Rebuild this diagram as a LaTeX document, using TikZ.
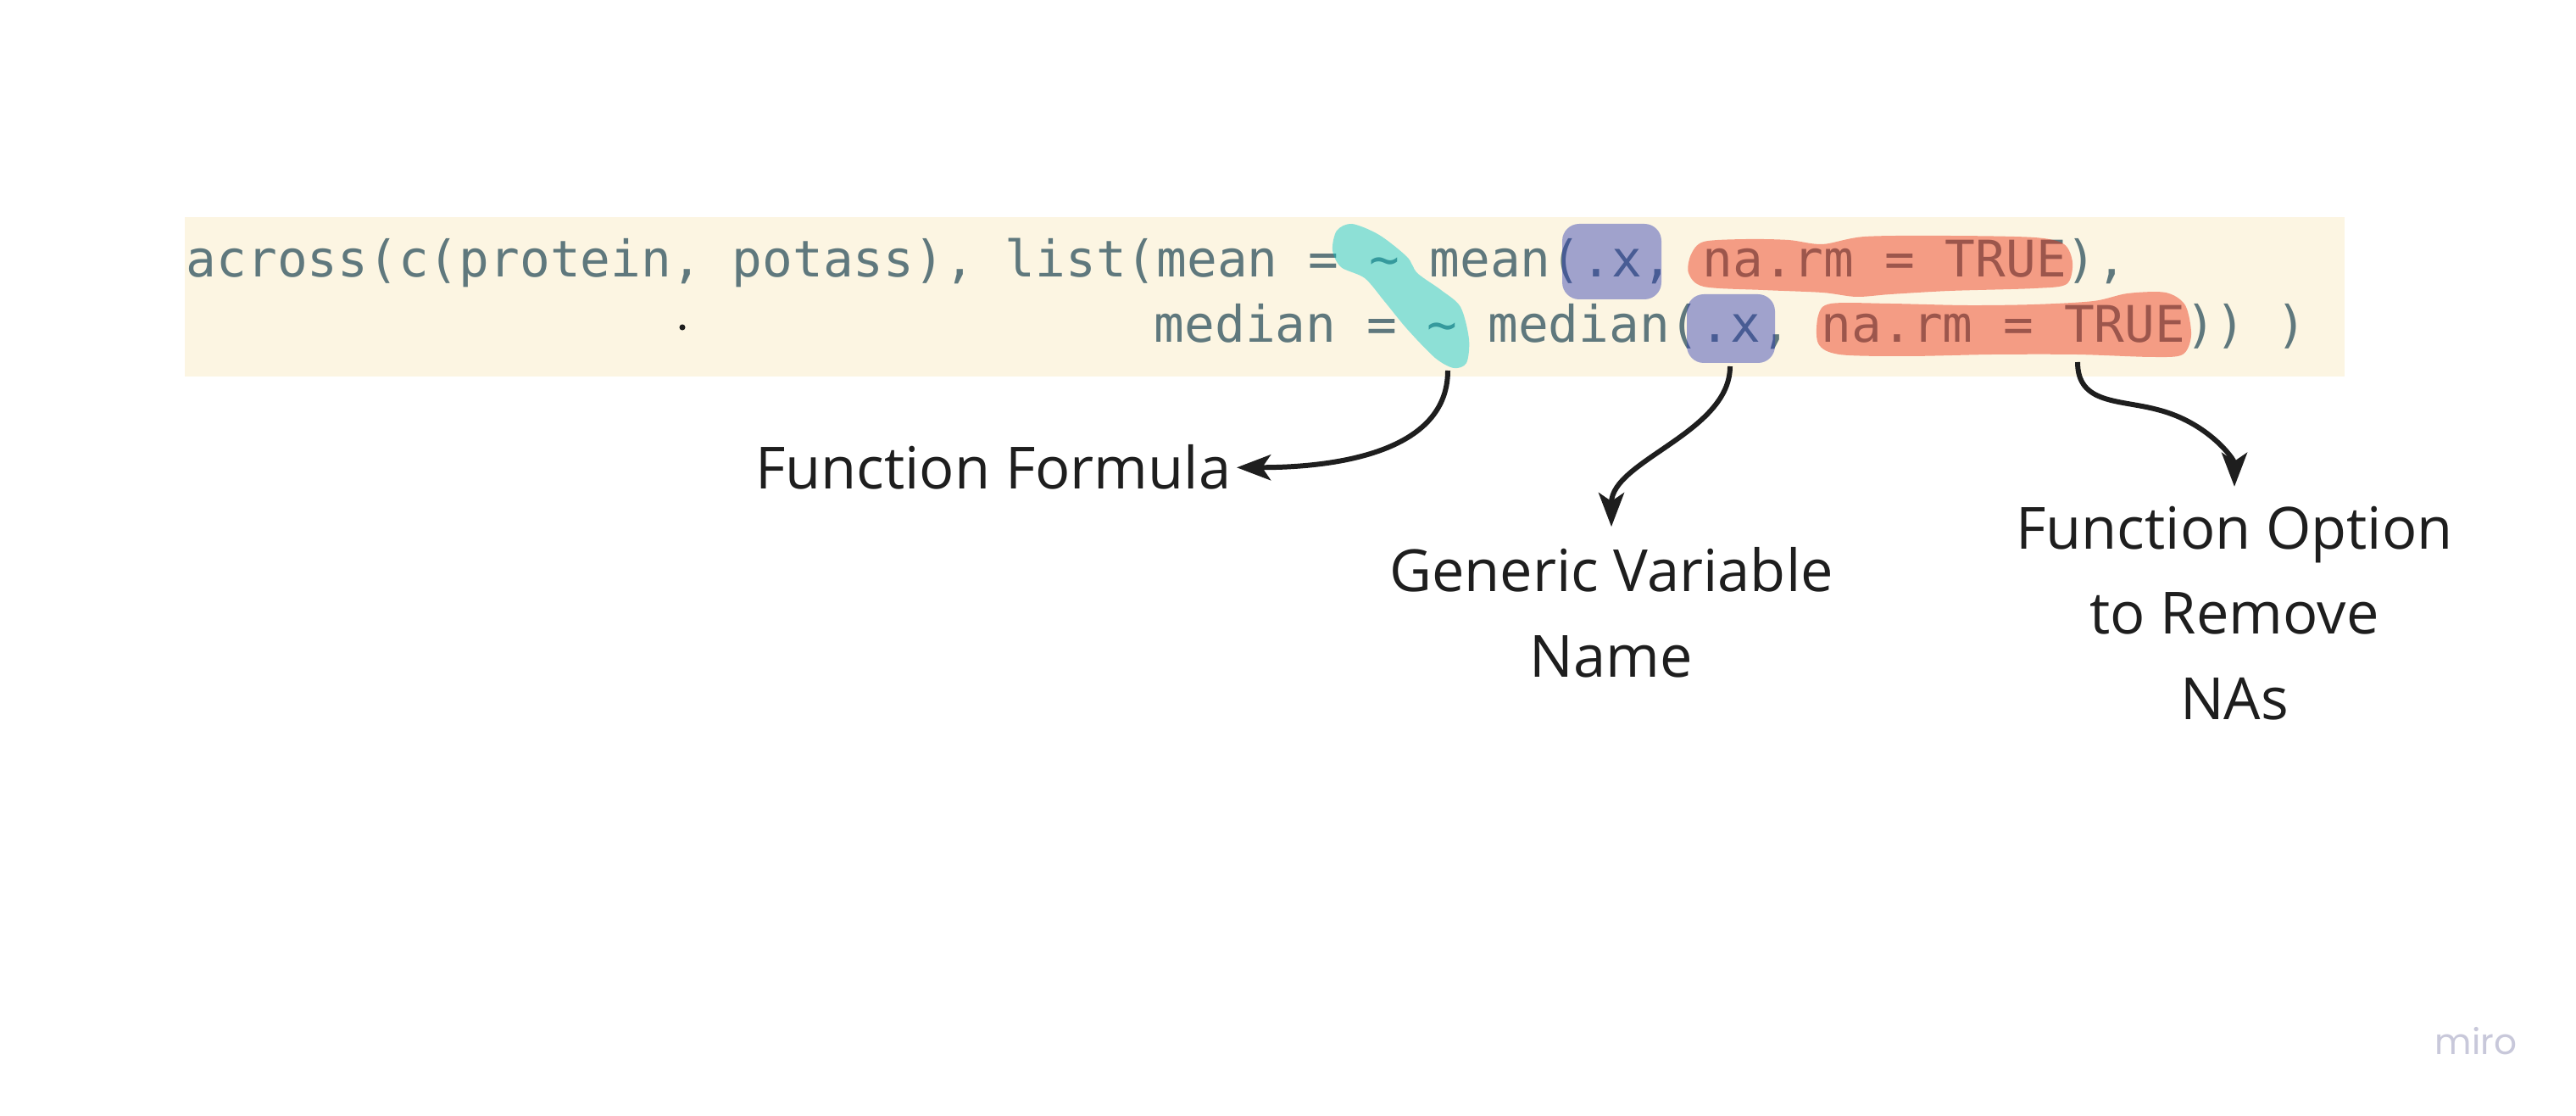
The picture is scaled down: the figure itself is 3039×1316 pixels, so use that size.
\documentclass[tikz,border=0pt]{standalone}
\usepackage{fontspec}
\newfontfamily\codefont{DejaVu Sans Mono}
\newfontfamily\notefont{Open Sans}
\newfontfamily\logofont{Poppins}
\usetikzlibrary{arrows.meta}
\definecolor{codebg}{RGB}{252,245,226}
\definecolor{codefg}{RGB}{95,120,125}
\definecolor{hlteal}{RGB}{0,198,200}
\definecolor{hlpurple}{RGB}{43,57,178}
\definecolor{hlsalmon}{RGB}{236,43,14}
\definecolor{ink}{RGB}{30,30,30}
\definecolor{logogrey}{RGB}{200,200,218}
\frenchspacing
\begin{document}
\begin{tikzpicture}[x=0.01cm, y=-0.01cm,
    codeline/.style={anchor=base west, inner sep=0pt, text=codefg,
      font=\codefont\fontsize{16.9}{20}\selectfont},
    note/.style={inner sep=0pt, align=center, text=ink,
      font=\notefont\fontsize{19.5}{28.45}\selectfont},
    pointer/.style={draw=ink, line width=1.7pt,
      -{Stealth[length=4mm,width=3mm,inset=1mm]}},
    hl/.style={opacity=0.44}]
    \fill[white] (0,0) rectangle (3039,1316);
    \fill[codebg] (218,256) rectangle (2766,444);
    \node[codeline] (line1) at (219,327) {across(c(protein, potass), list(mean = \textasciitilde{} mean(.x, na.rm = TRUE),};
    \node[codeline] (line2) at (1361,404) {median = \textasciitilde{} median(.x, na.rm = TRUE)) )};
    \fill[ink] (805,386) circle (1pt);
    % highlighter strokes
    \fill[hlteal, hl] plot[smooth cycle] coordinates {(1577,272) (1595,264) (1627,277)
      (1660,303) (1672,322) (1700,342) (1723,362) (1733,400) (1730,428) (1715,434)
      (1693,422) (1660,388) (1633,355) (1610,328) (1582,315) (1572,295)};
    \fill[hlpurple, hl, rounded corners=2mm] (1843,264) rectangle (1960,353);
    \fill[hlpurple, hl, rounded corners=2mm] (1990,347) rectangle (2094,428);
    \fill[hlsalmon, hl] plot[smooth cycle] coordinates {(1995,300) (2010,285) (2060,282)
      (2110,283) (2150,288) (2200,279) (2300,278) (2400,280) (2435,288) (2445,310)
      (2438,335) (2400,340) (2300,343) (2230,347) (2190,350) (2150,345) (2080,342)
      (2010,338) (1992,322)};
    \fill[hlsalmon, hl] plot[smooth cycle] coordinates {(2145,372) (2160,358) (2230,358)
      (2320,360) (2400,359) (2470,355) (2510,346) (2555,345) (2578,360) (2585,395)
      (2575,418) (2540,421) (2450,418) (2350,418) (2250,420) (2170,418) (2145,405)};
    % labels
    \node[note, anchor=base east] (formula) at (1453,577) {Function Formula};
    \node[note, anchor=base] (varname) at (1901,798) {Generic Variable\\Name};
    \node[note, anchor=base] (narm) at (2636,848) {Function Option\\to Remove\\NAs};
    \coordinate (tildeend) at (1708,437);
    \coordinate (xend) at (2041,432);
    \coordinate (narmend) at (2451,427);
    \coordinate (narmbend) at (2545,483);
    \draw[pointer, shorten >=0.06cm] (tildeend) .. controls +(0,103) and +(104,0) .. (formula.east);
    \draw[pointer, shorten >=0.24cm] (xend) .. controls +(0,78) and +(0,-102) .. (varname.north);
    \draw[pointer, shorten >=0.23cm] (narmend) .. controls +(0,50) and +(-45,-12) .. (narmbend)
      .. controls +(60,15) and +(0,-55) .. (narm.north);
    \node[anchor=base west, inner sep=0pt, text=logogrey,
      font=\logofont\fontsize{12}{14}\selectfont] (logo) at (2872,1243) {miro};
\end{tikzpicture}
\end{document}
